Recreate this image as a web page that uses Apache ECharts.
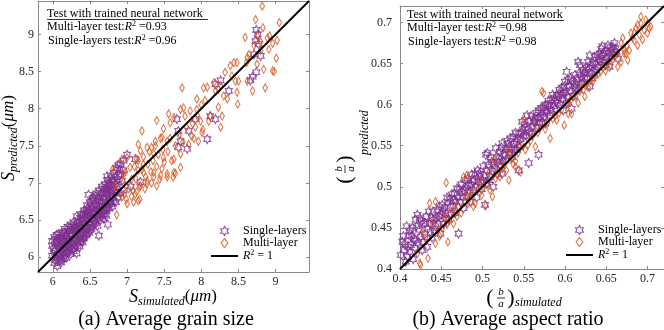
<!DOCTYPE html>
<html>
<head>
<meta charset="utf-8">
<script src="https://cdn.jsdelivr.net/npm/echarts@6/dist/echarts.min.js"></script>
<style>
html,body{margin:0;padding:0;background:#fff;}
#chart{width:664px;height:330px;}
</style>
</head>
<body>
<div id="chart"></div>
<script>
// ---------------- data ----------------
const leftRange = [5.8, 9.45];
const rightRange = [0.4, 0.72];
const leftTicks = [6, 6.5, 7, 7.5, 8, 8.5, 9];
const rightTicks = [0.4, 0.45, 0.5, 0.55, 0.6, 0.65, 0.7];
const leftIdentity = [[5.8, 5.8], [9.45, 9.45]];
const rightIdentity = [[0.4, 0.4], [0.72, 0.72]];
const leftR2 = ['0.93', '0.96'];
const rightR2 = ['0.98', '0.98'];

const leftSingle = [
[5.99,6.02],[5.99,6.15],[5.99,6.22],[6.02,5.92],[6.02,6.08],[6.02,6.27],
[6.04,5.96],[6.04,6.12],[6.04,6.19],[6.06,5.88],[6.06,6.03],[6.06,6.24],
[6.08,5.95],[6.08,6.14],[6.08,6.31],[6.10,6.00],[6.10,6.09],[6.10,6.22],
[6.12,5.97],[6.12,6.18],[6.12,6.33],[6.14,6.05],[6.14,6.26],[6.14,6.12],
[6.16,6.02],[6.16,6.21],[6.16,6.38],[6.18,6.10],[6.18,6.30],[6.18,5.99],
[6.20,6.06],[6.20,6.16],[6.20,6.41],[6.22,6.13],[6.22,6.35],[6.22,6.24],
[6.24,6.04],[6.24,6.20],[6.24,6.44],[6.26,6.11],[6.26,6.29],[6.26,6.37],
[6.28,6.18],[6.28,6.47],[6.28,6.08],[6.30,6.15],[6.30,6.33],[6.30,6.25],
[6.32,6.05],[6.32,6.22],[6.32,6.42],[6.32,6.55],[6.34,6.19],[6.34,6.37],[6.34,6.50],
[6.36,6.27],[6.36,6.46],[6.36,6.14],[6.38,6.22],[6.38,6.40],[6.38,6.58],
[6.40,6.30],[6.40,6.52],[6.40,6.20],[6.42,6.26],[6.42,6.45],[6.42,6.63],
[6.44,6.35],[6.44,6.57],[6.44,6.29],[6.46,6.31],[6.46,6.49],[6.46,6.70],
[6.48,6.40],[6.48,6.61],[6.48,6.84],[6.50,6.36],[6.50,6.55],[6.50,6.74],
[6.52,6.44],[6.52,6.66],[6.52,6.38],[6.54,6.41],[6.54,6.59],[6.54,6.80],
[6.56,6.49],[6.56,6.71],[6.56,6.45],[6.58,6.46],[6.58,6.64],[6.58,6.86],
[6.60,6.52],[6.60,6.76],[6.60,6.42],[6.62,6.29],[6.62,6.57],[6.62,6.69],[6.62,6.90],
[6.64,6.50],[6.64,6.62],[6.64,6.81],[6.66,6.55],[6.66,6.74],[6.66,6.95],
[6.68,6.60],[6.68,6.87],[6.68,6.52],[6.70,6.58],[6.70,6.79],[6.70,6.98],
[6.72,6.64],[6.72,6.92],[6.72,6.56],[6.73,7.09],[6.74,6.44],
[6.74,6.70],[6.74,6.84],[6.74,7.04],[6.76,6.66],[6.76,6.96],[6.76,6.77],
[6.78,6.72],[6.78,6.89],[6.78,7.10],[6.80,6.68],[6.80,7.01],[6.80,6.83],
[6.82,6.76],[6.82,6.93],[6.82,7.14],[6.85,6.74],[6.85,6.98],[6.85,7.20],
[6.88,6.80],[6.88,7.05],[6.88,7.24],[6.91,6.86],[6.91,7.12],[6.91,7.26],
[6.95,6.90],[6.95,7.17],[6.95,7.30],[7.00,7.38],[7.11,7.32],[7.18,7.01],[7.05,6.95],
[6.01,6.11],[6.05,6.30],[6.07,6.18],[6.09,6.05],[6.11,6.27],[6.13,6.10],[6.15,6.33],[6.17,6.15],
[6.19,6.24],[6.21,6.35],[6.23,6.10],[6.25,6.32],[6.27,6.22],[6.29,6.40],[6.31,6.29],[6.33,6.46],
[6.35,6.32],[6.37,6.53],[6.39,6.34],[6.41,6.58],[6.43,6.41],[6.45,6.63],[6.47,6.56],[6.49,6.47],
[6.51,6.69],[6.53,6.52],[6.55,6.76],[6.57,6.58],[6.59,6.69],[6.61,6.81],[6.63,6.63],[6.65,6.86],
[6.67,6.68],[6.69,6.92],[6.71,6.73],[6.73,6.88],[6.75,6.99],[6.77,6.82],[6.79,7.04],[6.81,6.90],
[6.84,7.08],[6.87,6.95],[6.90,7.18],[6.93,7.03],
[6.03,6.00],[6.05,6.21],[6.09,6.25],[6.11,5.93],[6.13,6.22],[6.15,5.98],[6.17,6.28],[6.19,6.07],
[6.21,6.20],[6.23,6.40],[6.25,6.15],[6.27,6.42],[6.29,6.12],[6.31,6.37],[6.33,6.15],[6.35,6.41],
[6.37,6.24],[6.39,6.49],[6.41,6.25],[6.43,6.53],[6.45,6.38],[6.47,6.65],[6.49,6.33],[6.51,6.60],
[6.53,6.78],[6.55,6.50],[6.57,6.82],[6.59,6.55],[6.61,6.64],[6.63,6.76],[6.65,6.58],[6.67,6.80],
[6.69,6.64],[6.71,6.86],[6.73,6.66],[6.75,6.92],[6.77,6.74],[6.79,6.97],[6.81,6.80],[6.83,7.02],
[6.86,6.88],[6.89,7.10],
[7.67,7.86],[7.69,7.70],[7.72,7.56],[7.69,7.48],[7.81,7.46],[7.83,7.70],[7.92,7.86],
[8.08,7.59],[8.12,7.90],[8.19,7.86],[8.26,8.38],[8.19,8.33],[8.37,8.24],
[8.66,8.38],[8.69,8.43],[8.74,8.49],[8.71,8.73],[8.80,8.71],[8.77,8.87],[8.73,8.91],[8.76,9.00],[8.74,9.06]
];

const leftMulti = [
[6.81,7.19],[6.84,6.96],[6.86,6.57],[6.93,6.81],[6.95,7.01],[6.93,7.32],[6.95,7.12],[6.99,6.78],
[7.00,7.34],[7.02,6.92],[7.04,7.21],[7.06,7.05],[7.09,6.74],[7.11,6.85],[7.13,7.32],[7.15,6.76],
[7.15,7.17],[7.15,7.52],[7.17,6.78],[7.18,6.96],[7.18,7.43],[7.20,7.70],[7.22,7.14],[7.22,7.25],
[7.27,6.99],[7.27,7.03],[7.27,7.48],[7.33,7.48],[7.36,7.08],[7.36,7.14],[7.36,7.39],[7.38,7.56],
[7.40,6.96],[7.40,7.84],[7.45,7.10],[7.47,7.19],[7.47,7.61],[7.49,7.34],[7.49,7.73],[7.54,7.08],
[7.54,7.12],[7.54,7.56],[7.56,7.93],[7.58,7.81],[7.62,7.08],[7.63,7.14],[7.63,7.32],[7.63,7.88],
[7.65,7.13],[7.72,7.21],[7.72,7.39],[7.72,7.99],[7.74,8.28],[7.76,8.01],[7.78,7.90],[7.83,7.52],
[7.85,7.97],[7.87,7.63],[7.92,7.75],[7.94,7.99],[7.94,8.13],[7.96,7.56],[7.99,7.83],[8.01,7.68],
[8.03,8.28],[8.05,8.11],[8.08,8.29],[8.10,7.83],[8.12,7.90],[8.17,8.35],[8.19,8.24],[8.23,8.02],
[8.23,8.26],[8.26,7.75],[8.26,8.31],[8.28,7.90],[8.30,8.17],[8.32,8.49],[8.35,8.13],[8.39,8.58],
[8.41,8.44],[8.44,8.62],[8.46,8.37],[8.48,8.22],[8.48,8.62],[8.49,8.06],[8.50,8.37],[8.59,8.96],
[8.61,8.62],[8.62,8.37],[8.62,8.69],[8.64,8.73],[8.69,8.24],[8.71,8.85],[8.73,9.20],[8.75,8.60],
[8.76,8.98],[8.80,8.78],[8.80,8.90],[8.82,9.38],[8.83,9.09],[8.84,8.53],[8.86,8.28],[8.89,8.95],
[8.91,8.80],[8.92,8.98],[8.96,8.51],[8.96,8.88],[8.98,8.50],[9.01,8.68],[9.02,8.92],[9.05,9.16],
[7.08,6.90],[7.10,7.22],[7.12,7.05],[7.15,7.30],[7.17,6.95],[7.20,7.18],[7.22,7.35],[7.25,7.08],
[7.28,7.25],[7.30,7.42],[7.32,7.15],[7.35,7.30],[7.38,7.50],[7.40,7.22],[7.42,7.38],[7.45,7.60],
[7.48,7.45],[7.50,7.28],[6.98,7.15],[6.96,6.85],[7.00,6.72],[7.06,6.82],[7.13,6.88],[7.24,6.92],
[7.33,7.00],[7.44,7.05],[7.55,7.42],[7.58,7.60],[7.60,7.30],[7.65,7.50],[7.70,7.65],[7.75,7.55],
[7.80,7.75],[7.88,7.80],[7.90,7.60],[7.95,7.90],[8.00,8.05],[8.02,7.72]
];

const rightSingle = [
[0.401,0.417],[0.403,0.433],[0.405,0.423],[0.407,0.409],[0.409,0.415],[0.411,0.441],[0.413,0.429],
[0.415,0.450],[0.417,0.437],[0.419,0.460],[0.421,0.466],[0.419,0.435],[0.404,0.440],[0.408,0.452],
[0.412,0.421],[0.416,0.412],[0.423,0.448],[0.425,0.439],[0.427,0.423],[0.429,0.455],[0.431,0.456],
[0.433,0.427],[0.435,0.470],[0.437,0.445],[0.439,0.438],[0.441,0.460],[0.443,0.452],[0.445,0.472],
[0.447,0.464],[0.449,0.443],[0.451,0.478],[0.453,0.455],[0.455,0.468],[0.457,0.487],[0.459,0.460],
[0.461,0.476],[0.463,0.491],[0.465,0.484],[0.467,0.468],[0.469,0.498],[0.471,0.443],[0.473,0.482],
[0.475,0.494],[0.477,0.474],[0.479,0.508],[0.481,0.489],[0.483,0.502],[0.485,0.482],[0.487,0.515],
[0.489,0.496],[0.491,0.516],[0.493,0.487],[0.495,0.506],[0.497,0.512],[0.499,0.497],[0.501,0.525],
[0.503,0.478],[0.505,0.504],[0.506,0.541],[0.508,0.508],[0.509,0.512],[0.511,0.530],[0.513,0.500],
[0.515,0.522],[0.516,0.547],[0.518,0.515],[0.520,0.535],[0.522,0.526],[0.524,0.553],[0.524,0.516],
[0.526,0.540],[0.528,0.532],[0.530,0.556],[0.532,0.548],[0.534,0.559],[0.536,0.536],[0.538,0.552],
[0.540,0.566],[0.542,0.545],[0.544,0.565],[0.544,0.520],[0.546,0.558],[0.548,0.579],[0.550,0.562],
[0.552,0.572],[0.554,0.587],[0.556,0.529],[0.557,0.566],[0.560,0.565],[0.562,0.580],[0.564,0.583],
[0.566,0.572],[0.568,0.593],[0.568,0.539],[0.570,0.585],[0.572,0.578],[0.574,0.596],[0.576,0.600],
[0.576,0.577],[0.578,0.590],[0.580,0.605],[0.582,0.587],[0.584,0.606],[0.586,0.598],[0.588,0.595],
[0.590,0.612],[0.592,0.610],[0.594,0.600],[0.596,0.620],[0.598,0.614],[0.598,0.593],[0.600,0.628],
[0.602,0.602],[0.604,0.630],[0.606,0.617],[0.608,0.595],[0.610,0.610],[0.612,0.636],[0.614,0.625],
[0.616,0.618],[0.618,0.648],[0.620,0.634],[0.622,0.642],[0.624,0.632],[0.626,0.645],[0.628,0.652],
[0.630,0.622],[0.632,0.638],[0.634,0.650],[0.636,0.658],[0.638,0.642],[0.640,0.646],[0.642,0.662],
[0.644,0.668],[0.646,0.652],[0.648,0.654],[0.650,0.665],[0.652,0.672],[0.654,0.646],[0.656,0.658],
[0.658,0.670],[0.660,0.675],[0.662,0.664],[0.664,0.656],[0.602,0.640],[0.616,0.652],[0.504,0.539],
[0.412,0.447],[0.418,0.426],[0.422,0.431],[0.426,0.458],[0.430,0.442],[0.434,0.449],[0.438,0.462],
[0.442,0.447],[0.446,0.455],[0.450,0.466],[0.454,0.474],[0.458,0.481],[0.462,0.466],[0.466,0.492],
[0.470,0.487],[0.474,0.503],[0.478,0.495],[0.482,0.510],[0.486,0.503],[0.490,0.508],[0.494,0.520],
[0.498,0.505],[0.502,0.514],[0.507,0.527],[0.512,0.519],[0.517,0.536],[0.521,0.543],[0.525,0.531],
[0.529,0.545],[0.533,0.541],[0.537,0.561],[0.541,0.555],[0.545,0.548],[0.549,0.570],[0.553,0.562],
[0.557,0.580],[0.561,0.574],[0.565,0.590],[0.569,0.577],[0.573,0.588],[0.577,0.592],[0.581,0.598],
[0.585,0.612],[0.589,0.604],[0.593,0.618],[0.597,0.607],[0.601,0.615],[0.605,0.623],[0.609,0.628],
[0.613,0.620],[0.617,0.638],[0.621,0.627],[0.625,0.640],[0.629,0.644],[0.633,0.632],[0.637,0.650],
[0.641,0.655],[0.645,0.660],[0.649,0.648],[0.653,0.662],[0.657,0.666],[0.661,0.668],[0.645,0.671],[0.630,0.660],
[0.406,0.430],[0.410,0.427],[0.414,0.440],[0.420,0.452],[0.424,0.462],[0.428,0.433],[0.432,0.464],
[0.436,0.455],[0.440,0.470],[0.444,0.462],[0.448,0.476],[0.452,0.470],[0.456,0.461],[0.460,0.486],
[0.464,0.477],[0.468,0.482],[0.472,0.497],[0.476,0.487],[0.480,0.499],[0.484,0.493],[0.488,0.507],
[0.492,0.500],[0.496,0.516],[0.500,0.508],[0.505,0.520],[0.510,0.536],[0.514,0.527],[0.519,0.530],
[0.523,0.548],[0.527,0.538],[0.531,0.552],[0.535,0.547],[0.539,0.545],[0.543,0.558],[0.547,0.566],
[0.551,0.576],[0.555,0.570],[0.559,0.586],[0.563,0.578],[0.567,0.584],[0.571,0.596],[0.575,0.585],
[0.579,0.600],[0.583,0.594],[0.587,0.608],[0.591,0.602],[0.595,0.612],[0.599,0.622],[0.603,0.610],
[0.607,0.632],[0.611,0.622],[0.615,0.631],[0.619,0.625],[0.623,0.637],[0.627,0.633],[0.631,0.648],
[0.635,0.640],[0.639,0.660],[0.643,0.652],[0.647,0.663],[0.651,0.657],[0.655,0.670],[0.659,0.662]
];

const rightMulti = [
[0.421,0.419],[0.424,0.407],[0.425,0.405],[0.427,0.445],[0.431,0.437],[0.434,0.413],[0.436,0.480],
[0.439,0.456],[0.443,0.482],[0.443,0.431],[0.446,0.447],[0.448,0.440],[0.451,0.450],[0.454,0.462],
[0.456,0.505],[0.457,0.454],[0.458,0.433],[0.460,0.459],[0.463,0.470],[0.465,0.455],[0.467,0.473],
[0.469,0.464],[0.471,0.476],[0.474,0.468],[0.477,0.512],[0.479,0.488],[0.481,0.514],[0.482,0.479],
[0.485,0.487],[0.487,0.494],[0.489,0.476],[0.491,0.480],[0.494,0.496],[0.496,0.508],[0.499,0.490],
[0.501,0.499],[0.504,0.477],[0.506,0.503],[0.508,0.518],[0.509,0.496],[0.512,0.488],[0.514,0.533],
[0.516,0.510],[0.519,0.519],[0.521,0.512],[0.524,0.522],[0.526,0.527],[0.529,0.520],[0.532,0.543],
[0.532,0.508],[0.535,0.534],[0.537,0.528],[0.540,0.531],[0.540,0.524],[0.543,0.541],[0.546,0.518],
[0.548,0.550],[0.550,0.583],[0.552,0.545],[0.555,0.551],[0.558,0.556],[0.561,0.562],[0.564,0.549],
[0.567,0.566],[0.570,0.572],[0.572,0.616],[0.574,0.614],[0.576,0.570],[0.579,0.578],[0.582,0.559],
[0.585,0.583],[0.588,0.586],[0.590,0.581],[0.593,0.590],[0.596,0.594],[0.599,0.575],[0.602,0.600],
[0.604,0.602],[0.604,0.589],[0.607,0.606],[0.608,0.589],[0.610,0.610],[0.613,0.609],[0.616,0.602],
[0.618,0.616],[0.620,0.622],[0.622,0.618],[0.624,0.610],[0.626,0.624],[0.628,0.621],[0.631,0.630],
[0.634,0.628],[0.637,0.635],[0.640,0.637],[0.643,0.640],[0.646,0.645],[0.649,0.641],[0.652,0.650],
[0.655,0.648],[0.658,0.655],[0.661,0.659],[0.664,0.646],[0.664,0.662],[0.668,0.675],[0.668,0.652],
[0.670,0.681],[0.672,0.662],[0.672,0.666],[0.674,0.662],[0.675,0.672],[0.676,0.654],[0.678,0.666],
[0.680,0.687],[0.682,0.681],[0.684,0.687],[0.686,0.693],[0.688,0.672],[0.688,0.697],[0.690,0.685],
[0.692,0.699],[0.692,0.707],[0.694,0.679],[0.696,0.691],[0.700,0.687],[0.700,0.699],[0.702,0.693],
[0.704,0.695],[0.698,0.703],[0.684,0.678]
];

// ---------------- styling ----------------
const PURPLE = '#7E2F8E', ORANGE = '#D95319', BOX = '#8a8a8a', TXT = '#262626';
const SERIF = 'Liberation Serif';
const STAR = 'path://M0,-100L29,-50L87,-50L58,0L87,50L29,50L0,100L-29,50L-87,50L-58,0L-87,-50L-29,-50Z';
const DIAMOND = 'path://M0,-4L3,0L0,4L-3,0Z';

function xAx(grid, range, ticks, pos) {
  return {
    gridIndex: grid, type: 'value', min: range[0], max: range[1], position: pos,
    axisLine: { show: true, onZero: false, lineStyle: { color: BOX, width: 1 } },
    axisTick: { show: true, inside: true, length: 3, customValues: ticks, lineStyle: { color: BOX } },
    axisLabel: { show: pos === 'bottom', customValues: ticks, margin: 4, fontFamily: SERIF, fontSize: 12, color: TXT,
      formatter: v => String(v) },
    splitLine: { show: false }
  };
}
function yAx(grid, range, ticks, pos, margin) {
  return {
    gridIndex: grid, type: 'value', min: range[0], max: range[1], position: pos,
    axisLine: { show: true, onZero: false, lineStyle: { color: BOX, width: 1 } },
    axisTick: { show: true, inside: true, length: 3, customValues: ticks, lineStyle: { color: BOX } },
    axisLabel: { show: pos === 'left', customValues: ticks, margin: margin, fontFamily: SERIF, fontSize: 12, color: TXT,
      formatter: v => String(v) },
    splitLine: { show: false }
  };
}

const richMath = {
  t: { fontFamily: SERIF, fontSize: 12, color: '#000', lineHeight: 14 },
  i: { fontFamily: SERIF, fontSize: 12, fontStyle: 'italic', color: '#000', lineHeight: 14 },
  s: { fontFamily: SERIF, fontSize: 8, color: '#000', lineHeight: 14, verticalAlign: 'top' }
};
function legendFmt(name) {
  if (name.indexOf('R') === 0) return '{i|R}{s|2}{t| = 1}';
  return '{t|' + name + '}';
}
function legend(left, top) {
  return {
    left: left, top: top, orient: 'vertical', itemWidth: 27, itemHeight: 9, itemGap: 0,
    selectedMode: false, formatter: legendFmt,
    textStyle: { fontFamily: SERIF, fontSize: 12, color: '#000', rich: richMath },
    data: [
      { name: 'Single-layers', icon: STAR, itemStyle: { color: 'rgba(0,0,0,0)', borderColor: PURPLE, borderWidth: 1.2 } },
      { name: 'Multi-layer', icon: DIAMOND, itemStyle: { color: 'rgba(0,0,0,0)', borderColor: ORANGE, borderWidth: 1.2 } },
      { name: 'R² = 1', itemStyle: { color: 'rgba(0,0,0,0)', borderColor: 'rgba(0,0,0,0)', borderWidth: 0 },
        lineStyle: { color: '#000', width: 2 } }
    ]
  };
}
function scatter(name, data, idx, sym, size, color) {
  return {
    name: name, type: 'scatter', xAxisIndex: idx, yAxisIndex: idx, data: data,
    symbol: sym, symbolSize: size, symbolKeepAspect: true,
    itemStyle: { color: 'rgba(0,0,0,0)', borderColor: color, borderWidth: 1.1 },
    emphasis: { disabled: true }, silent: true
  };
}
function identity(data, idx) {
  return {
    name: 'R² = 1', type: 'line', xAxisIndex: idx, yAxisIndex: idx, data: data,
    symbol: 'none', showSymbol: false, itemStyle: { color: 'rgba(0,0,0,0)' },
    lineStyle: { color: '#000', width: 2 }, z: 5, silent: true, clip: true
  };
}

function annot(x, y, r2) {
  return [
    { type: 'text', x: x, y: y, style: { text: 'Test with trained neural network', fontFamily: SERIF, fontSize: 12, fill: '#000', verticalAlign: 'middle' } },
    { type: 'text', x: x, y: y + 13, style: { text: '{t|Multi-layer test:}{i|R}{s|2}{t| =' + r2[0] + '}', rich: richMath, verticalAlign: 'middle' } },
    { type: 'text', x: x + 1, y: y + 27.5, style: { text: '{t|Single-layers test:}{i|R}{s|2}{t| =' + r2[1] + '}', rich: richMath, verticalAlign: 'middle' } }
  ];
}

const titleRich = {
  S: { fontFamily: SERIF, fontSize: 18, fontStyle: 'italic', color: '#000', lineHeight: 22 },
  sub: { fontFamily: SERIF, fontSize: 12, fontStyle: 'italic', color: '#000', lineHeight: 22, verticalAlign: 'bottom' },
  p: { fontFamily: SERIF, fontSize: 17, color: '#000', lineHeight: 22 },
  m: { fontFamily: SERIF, fontSize: 17, fontStyle: 'italic', color: '#000', lineHeight: 22 }
};

function fracTitle(gx, gy, rot, subText, subDy) {
  return {
    type: 'group', x: gx, y: gy, rotation: rot,
    children: [
      { type: 'text', x: 0, y: 0, style: { text: '(', fontFamily: SERIF, fontSize: 22, fill: '#000', align: 'center', verticalAlign: 'middle' } },
      { type: 'text', x: 11, y: -6, style: { text: 'b', fontFamily: SERIF, fontSize: 11, fontStyle: 'italic', fill: '#000', align: 'center', verticalAlign: 'middle' } },
      { type: 'line', shape: { x1: 7, y1: 0, x2: 15, y2: 0 }, style: { stroke: '#000', lineWidth: 0.8 } },
      { type: 'text', x: 11, y: 6, style: { text: 'a', fontFamily: SERIF, fontSize: 11, fontStyle: 'italic', fill: '#000', align: 'center', verticalAlign: 'middle' } },
      { type: 'text', x: 21, y: 0, style: { text: ')', fontFamily: SERIF, fontSize: 22, fill: '#000', align: 'center', verticalAlign: 'middle' } },
      { type: 'text', x: 25, y: subDy, style: { text: subText, fontFamily: SERIF, fontSize: 12, fontStyle: 'italic', fill: '#000', align: 'left', verticalAlign: 'middle' } }
    ]
  };
}

const graphics = [].concat(
  annot(47, 13.5, leftR2),
  annot(407, 14.5, rightR2),
  [
    { type: 'line', shape: { x1: 47, y1: 19.5, x2: 208, y2: 19.5 }, style: { stroke: '#000', lineWidth: 0.8 } },
    { type: 'line', shape: { x1: 407, y1: 20.5, x2: 564, y2: 20.5 }, style: { stroke: '#000', lineWidth: 0.8 } },
    { type: 'text', x: 173, y: 297, style: { text: '{S|S}{sub|simulated}{p|(}{m|μm}{p|)}', rich: titleRich, align: 'center', verticalAlign: 'middle' } },
    { type: 'text', x: 9, y: 138, rotation: Math.PI / 2, style: { text: '{S|S}{sub|predicted}{p|(}{m|μm}{p|)}', rich: titleRich, align: 'center', verticalAlign: 'middle' } },
    fracTitle(490, 298, 0, 'simulated', 5),
    fracTitle(345, 180, Math.PI / 2, 'predicted', 20),
    { type: 'text', x: 166, y: 320, style: { text: '(a) Average grain size', fontFamily: SERIF, fontSize: 20, fill: '#000', align: 'center', verticalAlign: 'middle' } },
    { type: 'text', x: 508, y: 320, style: { text: '(b) Average aspect ratio', fontFamily: SERIF, fontSize: 20, fill: '#000', align: 'center', verticalAlign: 'middle' } }
  ]
);

const chart = echarts.init(document.getElementById('chart'), null, { renderer: 'canvas' });
chart.setOption({
  animation: false,
  backgroundColor: '#fff',
  grid: [
    { left: 38, top: 1, width: 271, height: 271 },
    { left: 400, top: 6, width: 267, height: 263 }
  ],
  xAxis: [
    xAx(0, leftRange, leftTicks, 'bottom'), xAx(0, leftRange, leftTicks, 'top'),
    xAx(1, rightRange, rightTicks, 'bottom'), xAx(1, rightRange, rightTicks, 'top')
  ],
  yAxis: [
    yAx(0, leftRange, leftTicks, 'left', 4), yAx(0, leftRange, leftTicks, 'right', 4),
    yAx(1, rightRange, rightTicks, 'left', 8), yAx(1, rightRange, rightTicks, 'right', 8)
  ],
  legend: [legend(205, 220), legend(560, 219)],
  series: [
    scatter('Single-layers', leftSingle, 0, STAR, [8, 9], PURPLE),
    scatter('Multi-layer', leftMulti, 0, DIAMOND, [6, 8], ORANGE),
    identity(leftIdentity, 0),
    scatter('Single-layers', rightSingle, 2, STAR, [8, 9], PURPLE),
    scatter('Multi-layer', rightMulti, 2, DIAMOND, [6, 8], ORANGE),
    identity(rightIdentity, 2)
  ],
  graphic: graphics
});
</script>
</body>
</html>
